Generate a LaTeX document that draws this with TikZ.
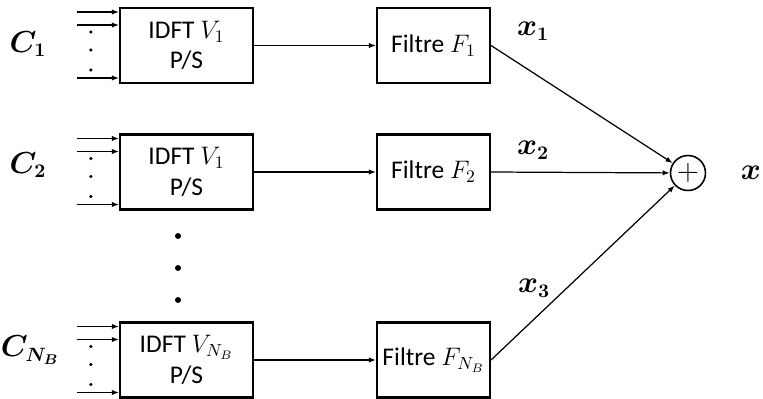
\documentclass[tikz,border=0pt]{standalone}
\usepackage{amsmath,bm}
\usepackage{fontspec}
\setmainfont{Carlito}
\usetikzlibrary{arrows.meta}

\tikzset{
  blk/.style={draw, line width=1.2pt, minimum height=1.5cm, align=center,
    inner sep=2pt, font=\fontsize{14.5}{17.5}\selectfont},
  idft/.style={blk, minimum width=2.66cm},
  filt/.style={blk, minimum width=2.26cm},
  sig/.style={-{Latex[length=4pt,width=3pt]}, line width=0.7pt},
  lbl/.style={font=\fontsize{16}{18}\selectfont},
}

\begin{document}
\begin{tikzpicture}
\useasboundingbox (0,0) rectangle (15.26,-7.96);

% IDFT blocks
\node[idft] (v1) at (3.73,-0.91) {IDFT $V_1$\\ P/S};
\node[idft] (v2) at (3.73,-3.44) {IDFT $V_1$\\ P/S};
\node[idft] (v3) at (3.73,-7.20) {IDFT $V_{N_B}$\\ P/S};

% filters
\node[filt] (f1) at (8.67,-0.91) {Filtre $F_1$};
\node[filt] (f2) at (8.67,-3.44) {Filtre $F_2$};
\node[filt] (f3) at (8.67,-7.20) {Filtre $F_{N_B}$};

% summation
\node[draw, circle, line width=0.9pt, minimum size=0.7cm, inner sep=0pt,
  font=\fontsize{19}{19}\selectfont] (sum) at (13.76,-3.46) {$+$};
\node[lbl] (x) at (15.02,-3.46) {$\bm{x}$};

% labels
\node[lbl] (c1) at (0.56,-0.88) {$\bm{C_1}$};
\node[lbl] (c2) at (0.56,-3.30) {$\bm{C_2}$};
\node[lbl] (c3) at (0.60,-7.00) {$\bm{C_{N_B}}$};
\node[lbl] (x1) at (10.66,-0.62) {$\bm{x_1}$};
\node[lbl] (x2) at (10.66,-3.00) {$\bm{x_2}$};
\node[lbl] (x3) at (10.68,-5.76) {$\bm{x_3}$};

% inputs of each block
\foreach \b in {v1,v2,v3}{
  \foreach \dy in {0.67,0.41,-0.65}
    \draw[sig] ([xshift=-0.84cm,yshift=\dy cm]\b.west) coordinate (in)
      -- ([yshift=\dy cm]\b.west);
  \foreach \dy in {0.27,-0.09,-0.49}
    \fill ([xshift=-0.56cm,yshift=\dy cm]\b.west) circle (0.035);
}

% vertical dots
\foreach \y in {-4.72,-5.36,-6.00}
  \fill (3.56,\y) circle (0.06);

\draw[sig] (v1) -- (f1);
\draw[sig] (v2) -- (f2);
\draw[sig] (v3) -- (f3);

\draw[sig] (f1.east) -- (sum);
\draw[sig] (f2.east) -- (sum);
\draw[sig] (f3.east) -- (sum);

\end{tikzpicture}
\end{document}
